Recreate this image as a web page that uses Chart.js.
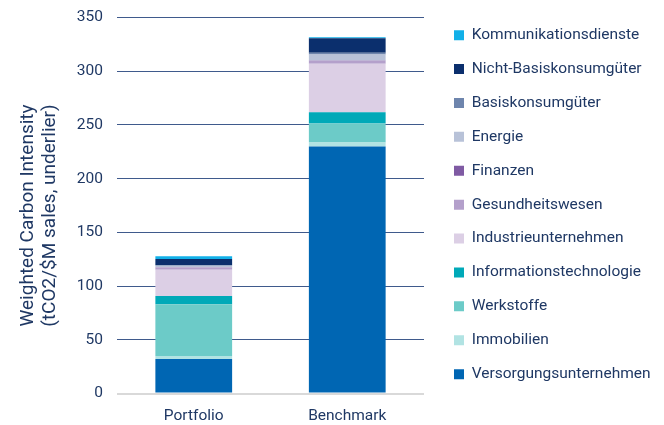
<!DOCTYPE html>
<html>
<head>
<meta charset="utf-8">
<script src="https://cdn.jsdelivr.net/npm/chart.js@4/dist/chart.umd.min.js"></script>
<style>
  html, body { margin: 0; padding: 0; background: #ffffff; }
  #wrap { width: 664px; height: 425px; position: relative; }
</style>
</head>
<body>
<div id="wrap"><canvas id="c"></canvas></div>
<script>
// Categories (x axis)
const categories = ["Portfolio", "Benchmark"];

// Sector names, bottom of stack first
const sectors = [
  "Versorgungsunternehmen",
  "Immobilien",
  "Werkstoffe",
  "Informationstechnologie",
  "Industrieunternehmen",
  "Gesundheitswesen",
  "Finanzen",
  "Energie",
  "Basiskonsumgüter",
  "Nicht-Basiskonsumgüter",
  "Kommunikationsdienste"
];

// Values per sector: [Portfolio, Benchmark]
const versorgung    = [32.0, 230.0];
const immobilien    = [2.8, 3.7];
const werkstoffe    = [48.3, 17.6];
const infotech      = [7.7, 10.6];
const industrie     = [24.5, 45.0];
const gesundheit    = [1.9, 2.8];
const finanzen      = [0.3, 0.3];
const energie       = [1.3, 5.6];
const basiskonsum   = [0.8, 1.6];
const nichtbasis    = [5.6, 13.5];
const kommunikation = [2.5, 1.0];

const seriesValues = [versorgung, immobilien, werkstoffe, infotech, industrie,
  gesundheit, finanzen, energie, basiskonsum, nichtbasis, kommunikation];

const sectorColors = [
  "#0066b3", "#b1e3e3", "#6ccbc8", "#00a9b8", "#dccfe5",
  "#b4a0cb", "#7f5aa3", "#b8c2d8", "#6e85ad", "#0b2f6d", "#12b0e8"
];

// Y axis ticks
const yMin = 0, yMax = 350, yStep = 50;
const yTitle = ["Weighted Carbon Intensity", "(tCO2/$M sales, underlier)"];

const textColor = "#1f3864";
const fontFamily = "Roboto, 'Liberation Sans', sans-serif";
const fontSize = 15.5;
const legendPad = 18.4;

const legendPlace = {
  id: "legendPlace",
  afterInit(chart) {
    const lg = chart.legend;
    if (!lg) return;
    const origFit = lg.fit.bind(lg);
    lg.fit = function () { origFit(); this.width = 240; };
  },
  afterLayout(chart) {
    const lg = chart.legend;
    if (!lg) return;
    const ca = chart.chartArea;
    lg.left = ca.right + 30 - legendPad;
    lg.right = lg.left + lg.width;
    lg.top = ca.top - 8.5;
    lg.bottom = lg.top + lg.height;
  }
};

const yTitlePlugin = {
  id: "yTitlePlugin",
  afterDraw(chart) {
    const ctx = chart.ctx;
    const ca = chart.chartArea;
    const cy = (ca.top + ca.bottom) / 2 + 10;
    ctx.save();
    ctx.fillStyle = textColor;
    ctx.font = "19px " + fontFamily;
    ctx.textAlign = "center";
    ctx.textBaseline = "middle";
    const xs = [28, 50];
    yTitle.forEach((line, i) => {
      ctx.save();
      ctx.translate(xs[i], cy);
      ctx.rotate(-Math.PI / 2);
      ctx.fillText(line, 0, 0);
      ctx.restore();
    });
    ctx.restore();
  }
};

new Chart(document.getElementById("c"), {
  type: "bar",
  data: {
    labels: categories,
    datasets: sectors.map((name, i) => ({
      label: name,
      data: seriesValues[i],
      backgroundColor: sectorColors[i],
      borderWidth: 0,
      barPercentage: 0.5,
      categoryPercentage: 1.0
    }))
  },
  options: {
    responsive: true,
    maintainAspectRatio: false,
    animation: false,
    layout: { padding: { top: 17.5, right: 0, bottom: 0, left: 0 } },
    plugins: {
      legend: {
        position: "right",
        align: "start",
        reverse: true,
        labels: {
          boxWidth: 10,
          boxHeight: 10,
          padding: legendPad,
          color: textColor,
          font: { family: fontFamily, size: fontSize }
        }
      },
      tooltip: { enabled: false }
    },
    scales: {
      x: {
        stacked: true,
        grid: { display: false, drawTicks: false },
        border: { display: false },
        ticks: { color: textColor, font: { family: fontFamily, size: fontSize }, padding: 13 },
        afterFit(scale) { scale.height = 31.5; }
      },
      y: {
        stacked: true,
        min: yMin,
        max: yMax,
        ticks: { stepSize: yStep, color: textColor, font: { family: fontFamily, size: fontSize }, padding: 14 },
        grid: {
          drawTicks: false,
          color: (ctx) => ctx.tick && ctx.tick.value === 0 ? "#d9d9d9" : "#3f5a8c",
          lineWidth: (ctx) => ctx.tick && ctx.tick.value === 0 ? 2 : 1
        },
        border: { display: false },
        title: { display: false },
        afterFit(scale) {
          scale.width = 117;
          scale.paddingTop = 0;
          scale.paddingBottom = 0;
        }
      }
    }
  },
  plugins: [legendPlace, yTitlePlugin]
});
</script>
</body>
</html>
